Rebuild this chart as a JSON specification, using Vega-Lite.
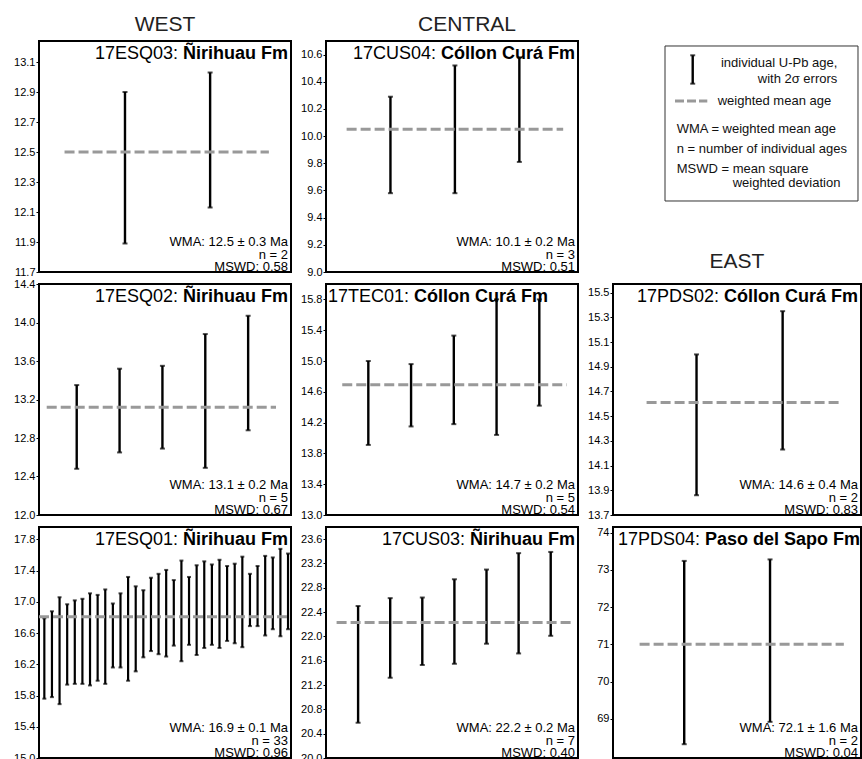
{
"$schema": "https://vega.github.io/schema/vega-lite/v6.json",
"background": "white",
"padding": {"left": 12, "top": 13, "right": 0, "bottom": 0},
"datasets": {
"b1": [{"i":1,"lo":11.89,"hi":12.90},{"i":2,"lo":12.13,"hi":13.03}],
"b2": [{"i":1,"lo":9.58,"hi":10.29},{"i":2,"lo":9.58,"hi":10.52},{"i":3,"lo":9.81,"hi":10.58}],
"b3": [{"i":1,"lo":12.48,"hi":13.35},{"i":2,"lo":12.65,"hi":13.52},{"i":3,"lo":12.69,"hi":13.55},{"i":4,"lo":12.49,"hi":13.88},{"i":5,"lo":12.88,"hi":14.07}],
"b4": [{"i":1,"lo":13.91,"hi":15.0},{"i":2,"lo":14.15,"hi":14.96},{"i":3,"lo":14.18,"hi":15.33},{"i":4,"lo":14.04,"hi":15.8},{"i":5,"lo":14.42,"hi":15.8}],
"b5": [{"i":1,"lo":13.86,"hi":15.0},{"i":2,"lo":14.23,"hi":15.35}],
"b6": [{"i":1,"lo":15.76,"hi":16.79},{"i":2,"lo":15.78,"hi":16.88},{"i":3,"lo":15.69,"hi":17.06},{"i":4,"lo":15.94,"hi":16.97},{"i":5,"lo":15.95,"hi":17.02},{"i":6,"lo":15.95,"hi":17.04},{"i":7,"lo":15.93,"hi":17.11},{"i":8,"lo":15.99,"hi":17.09},{"i":9,"lo":15.95,"hi":17.16},{"i":10,"lo":16.16,"hi":16.98},{"i":11,"lo":16.16,"hi":17.11},{"i":12,"lo":15.99,"hi":17.32},{"i":13,"lo":16.11,"hi":17.20},{"i":14,"lo":16.29,"hi":17.15},{"i":15,"lo":16.37,"hi":17.31},{"i":16,"lo":16.33,"hi":17.36},{"i":17,"lo":16.30,"hi":17.41},{"i":18,"lo":16.44,"hi":17.28},{"i":19,"lo":16.24,"hi":17.53},{"i":20,"lo":16.45,"hi":17.32},{"i":21,"lo":16.32,"hi":17.47},{"i":22,"lo":16.41,"hi":17.52},{"i":23,"lo":16.45,"hi":17.48},{"i":24,"lo":16.41,"hi":17.54},{"i":25,"lo":16.50,"hi":17.46},{"i":26,"lo":16.47,"hi":17.49},{"i":27,"lo":16.42,"hi":17.58},{"i":28,"lo":16.69,"hi":17.36},{"i":29,"lo":16.69,"hi":17.46},{"i":30,"lo":16.57,"hi":17.59},{"i":31,"lo":16.65,"hi":17.57},{"i":32,"lo":16.56,"hi":17.68},{"i":33,"lo":16.65,"hi":17.62}],
"b7": [{"i":1,"lo":20.58,"hi":22.50},{"i":2,"lo":21.32,"hi":22.63},{"i":3,"lo":21.53,"hi":22.64},{"i":4,"lo":21.55,"hi":22.94},{"i":5,"lo":21.88,"hi":23.10},{"i":6,"lo":21.72,"hi":23.37},{"i":7,"lo":22.01,"hi":23.39}],
"b8": [{"i":1,"lo":68.32,"hi":73.24},{"i":2,"lo":68.92,"hi":73.28}],
"s1": [{"sample":"17ESQ03:","fm":"Ñirihuau Fm","wma":12.5,"l1":"WMA: 12.5 ± 0.3 Ma","l2":"n = 2","l3":"MSWD: 0.58"}],
"s2": [{"sample":"17CUS04:","fm":"Cóllon Curá Fm","wma":10.05,"l1":"WMA: 10.1 ± 0.2 Ma","l2":"n = 3","l3":"MSWD: 0.51"}],
"s3": [{"sample":"17ESQ02:","fm":"Ñirihuau Fm","wma":13.12,"l1":"WMA: 13.1 ± 0.2 Ma","l2":"n = 5","l3":"MSWD: 0.67"}],
"s4": [{"sample":"17TEC01:","fm":"Cóllon Curá Fm","wma":14.69,"l1":"WMA: 14.7 ± 0.2 Ma","l2":"n = 5","l3":"MSWD: 0.54"}],
"s5": [{"sample":"17PDS02:","fm":"Cóllon Curá Fm","wma":14.61,"l1":"WMA: 14.6 ± 0.4 Ma","l2":"n = 2","l3":"MSWD: 0.83"}],
"s6": [{"sample":"17ESQ01:","fm":"Ñirihuau Fm","wma":16.81,"l1":"WMA: 16.9 ± 0.1 Ma","l2":"n = 33","l3":"MSWD: 0.96"}],
"s7": [{"sample":"17CUS03:","fm":"Ñirihuau Fm","wma":22.23,"l1":"WMA: 22.2 ± 0.2 Ma","l2":"n = 7","l3":"MSWD: 0.40"}],
"s8": [{"sample":"17PDS04:","fm":"Paso del Sapo Fm","wma":71.0,"l1":"WMA: 72.1 ± 1.6 Ma","l2":"n = 2","l3":"MSWD: 0.04"}]
},
"columns": 3,
"bounds": "flush",
"spacing": {"row": 12, "column": 35},
"concat": [
{
"width": 252, "height": 231,
"title": {"text": "WEST", "offset": -15, "baseline": "bottom"},
"layer": [
{"data": {"name": "b1"}, "mark": {"type": "rule", "color": "black", "strokeWidth": 2.4},
 "encoding": {"x": {"field": "i", "type": "quantitative", "scale": {"domain": [-0.01, 2.95], "nice": false, "zero": false}, "axis": null},
  "y": {"field": "lo", "type": "quantitative", "scale": {"domain": [11.7, 13.24], "nice": false, "zero": false}, "axis": {"values": [11.7, 11.9, 12.1, 12.3, 12.5, 12.7, 12.9, 13.1], "tickCount": 20, "labelOverlap": false, "format": ".1f", "title": null}},
  "y2": {"field": "hi"}}},
{"data": {"name": "b1"}, "mark": {"type": "tick", "orient": "horizontal", "color": "black", "size": 5, "thickness": 2},
 "encoding": {"x": {"field": "i", "type": "quantitative", "axis": null}, "y": {"field": "lo", "type": "quantitative"}}},
{"data": {"name": "b1"}, "mark": {"type": "tick", "orient": "horizontal", "color": "black", "size": 5, "thickness": 2},
 "encoding": {"x": {"field": "i", "type": "quantitative", "axis": null}, "y": {"field": "hi", "type": "quantitative"}}},
{"data": {"name": "s1"}, "mark": {"type": "rule", "color": "#999999", "strokeWidth": 3, "strokeDash": [10, 4]},
 "encoding": {"x": {"datum": 0.29, "type": "quantitative", "axis": null}, "x2": {"datum": 2.69}, "y": {"field": "wma", "type": "quantitative"}}},
{"data": {"name": "s1"}, "mark": {"type": "text", "align": "right", "baseline": "alphabetic", "fontSize": 18, "dx": -113, "dy": 18, "color": "black"},
 "encoding": {"x": {"datum": 2.95, "type": "quantitative", "axis": null}, "y": {"datum": 13.24, "type": "quantitative"}, "text": {"field": "sample"}}},
{"data": {"name": "s1"}, "mark": {"type": "text", "align": "right", "baseline": "alphabetic", "fontSize": 18, "fontWeight": "bold", "dx": -3, "dy": 18, "color": "black"},
 "encoding": {"x": {"datum": 2.95, "type": "quantitative", "axis": null}, "y": {"datum": 13.24, "type": "quantitative"}, "text": {"field": "fm"}}},
{"data": {"name": "s1"}, "mark": {"type": "text", "align": "right", "baseline": "alphabetic", "fontSize": 13, "dx": -3, "dy": -26, "color": "black"},
 "encoding": {"x": {"datum": 2.95, "type": "quantitative", "axis": null}, "y": {"datum": 11.7, "type": "quantitative"}, "text": {"field": "l1"}}},
{"data": {"name": "s1"}, "mark": {"type": "text", "align": "right", "baseline": "alphabetic", "fontSize": 13, "dx": -3, "dy": -13.5, "color": "black"},
 "encoding": {"x": {"datum": 2.95, "type": "quantitative", "axis": null}, "y": {"datum": 11.7, "type": "quantitative"}, "text": {"field": "l2"}}},
{"data": {"name": "s1"}, "mark": {"type": "text", "align": "right", "baseline": "alphabetic", "fontSize": 13, "dx": -3, "dy": -1.5, "color": "black"},
 "encoding": {"x": {"datum": 2.95, "type": "quantitative", "axis": null}, "y": {"datum": 11.7, "type": "quantitative"}, "text": {"field": "l3"}}}
]
},
{
"width": 252, "height": 231,
"title": {"text": "CENTRAL", "offset": -15, "baseline": "bottom", "dx": 15},
"layer": [
{"data": {"name": "b2"}, "mark": {"type": "rule", "color": "black", "strokeWidth": 2.4},
 "encoding": {"x": {"field": "i", "type": "quantitative", "scale": {"domain": [0, 3.91], "nice": false, "zero": false}, "axis": null},
  "y": {"field": "lo", "type": "quantitative", "scale": {"domain": [9.0, 10.7], "nice": false, "zero": false}, "axis": {"values": [9.0, 9.2, 9.4, 9.6, 9.8, 10.0, 10.2, 10.4, 10.6], "tickCount": 20, "labelOverlap": false, "format": ".1f", "title": null}},
  "y2": {"field": "hi"}}},
{"data": {"name": "b2"}, "mark": {"type": "tick", "orient": "horizontal", "color": "black", "size": 5, "thickness": 2},
 "encoding": {"x": {"field": "i", "type": "quantitative", "axis": null}, "y": {"field": "lo", "type": "quantitative"}}},
{"data": {"name": "b2"}, "mark": {"type": "tick", "orient": "horizontal", "color": "black", "size": 5, "thickness": 2},
 "encoding": {"x": {"field": "i", "type": "quantitative", "axis": null}, "y": {"field": "hi", "type": "quantitative"}}},
{"data": {"name": "s2"}, "mark": {"type": "rule", "color": "#999999", "strokeWidth": 3, "strokeDash": [10, 4]},
 "encoding": {"x": {"datum": 0.32, "type": "quantitative", "axis": null}, "x2": {"datum": 3.68}, "y": {"field": "wma", "type": "quantitative"}}},
{"data": {"name": "s2"}, "mark": {"type": "text", "align": "right", "baseline": "alphabetic", "fontSize": 18, "dx": -142, "dy": 18, "color": "black"},
 "encoding": {"x": {"datum": 3.91, "type": "quantitative", "axis": null}, "y": {"datum": 10.7, "type": "quantitative"}, "text": {"field": "sample"}}},
{"data": {"name": "s2"}, "mark": {"type": "text", "align": "right", "baseline": "alphabetic", "fontSize": 18, "fontWeight": "bold", "dx": -3, "dy": 18, "color": "black"},
 "encoding": {"x": {"datum": 3.91, "type": "quantitative", "axis": null}, "y": {"datum": 10.7, "type": "quantitative"}, "text": {"field": "fm"}}},
{"data": {"name": "s2"}, "mark": {"type": "text", "align": "right", "baseline": "alphabetic", "fontSize": 13, "dx": -3, "dy": -26, "color": "black"},
 "encoding": {"x": {"datum": 3.91, "type": "quantitative", "axis": null}, "y": {"datum": 9.0, "type": "quantitative"}, "text": {"field": "l1"}}},
{"data": {"name": "s2"}, "mark": {"type": "text", "align": "right", "baseline": "alphabetic", "fontSize": 13, "dx": -3, "dy": -13.5, "color": "black"},
 "encoding": {"x": {"datum": 3.91, "type": "quantitative", "axis": null}, "y": {"datum": 9.0, "type": "quantitative"}, "text": {"field": "l2"}}},
{"data": {"name": "s2"}, "mark": {"type": "text", "align": "right", "baseline": "alphabetic", "fontSize": 13, "dx": -3, "dy": -1.5, "color": "black"},
 "encoding": {"x": {"datum": 3.91, "type": "quantitative", "axis": null}, "y": {"datum": 9.0, "type": "quantitative"}, "text": {"field": "l3"}}}
]
},
{
"width": 248, "height": 231,
"view": {"stroke": null},
"data": {"values": [{"k": 1}]},
"layer": [
{"mark": {"type": "rect", "filled": false, "color": "#333333", "strokeWidth": 1},
 "encoding": {"x": {"datum": 0.2097, "type": "quantitative", "scale": {"domain": [0, 1], "nice": false, "zero": false}, "axis": null}, "x2": {"datum": 0.9879},
  "y": {"datum": 0.0216, "type": "quantitative", "scale": {"domain": [0, 1], "reverse": true, "nice": false, "zero": false}, "axis": null}, "y2": {"datum": 0.6926}}},
{"mark": {"type": "rule", "color": "black", "strokeWidth": 2.4},
 "encoding": {"x": {"datum": 0.3214, "type": "quantitative", "axis": null}, "y": {"datum": 0.0619, "type": "quantitative", "axis": null}, "y2": {"datum": 0.1848}}},
{"mark": {"type": "tick", "orient": "horizontal", "color": "black", "size": 5, "thickness": 2},
 "encoding": {"x": {"datum": 0.3214, "type": "quantitative", "axis": null}, "y": {"datum": 0.0619, "type": "quantitative", "axis": null}}},
{"mark": {"type": "tick", "orient": "horizontal", "color": "black", "size": 5, "thickness": 2},
 "encoding": {"x": {"datum": 0.3214, "type": "quantitative", "axis": null}, "y": {"datum": 0.1848, "type": "quantitative", "axis": null}}},
{"mark": {"type": "rule", "color": "#999999", "strokeWidth": 3, "strokeDash": [9, 3]},
 "encoding": {"x": {"datum": 0.25, "type": "quantitative", "axis": null}, "x2": {"datum": 0.3802}, "y": {"datum": 0.2597, "type": "quantitative", "axis": null}}},
{"mark": {"type": "text", "text": "individual U-Pb age,", "align": "right", "baseline": "middle", "fontSize": 13, "color": "#111111"},
 "encoding": {"x": {"datum": 0.9044, "type": "quantitative", "axis": null}, "y": {"datum": 0.0952, "type": "quantitative", "axis": null}}},
{"mark": {"type": "text", "text": "with 2σ errors", "align": "right", "baseline": "middle", "fontSize": 13, "color": "#111111"},
 "encoding": {"x": {"datum": 0.9044, "type": "quantitative", "axis": null}, "y": {"datum": 0.1645, "type": "quantitative", "axis": null}}},
{"mark": {"type": "text", "text": "weighted mean age", "align": "left", "baseline": "middle", "fontSize": 13, "color": "#111111"},
 "encoding": {"x": {"datum": 0.4222, "type": "quantitative", "axis": null}, "y": {"datum": 0.2597, "type": "quantitative", "axis": null}}},
{"mark": {"type": "text", "text": "WMA = weighted mean age", "align": "left", "baseline": "middle", "fontSize": 13, "color": "#111111"},
 "encoding": {"x": {"datum": 0.2569, "type": "quantitative", "axis": null}, "y": {"datum": 0.3823, "type": "quantitative", "axis": null}}},
{"mark": {"type": "text", "text": "n = number of individual ages", "align": "left", "baseline": "middle", "fontSize": 13, "color": "#111111"},
 "encoding": {"x": {"datum": 0.2569, "type": "quantitative", "axis": null}, "y": {"datum": 0.4675, "type": "quantitative", "axis": null}}},
{"mark": {"type": "text", "text": "MSWD = mean square", "align": "left", "baseline": "middle", "fontSize": 13, "color": "#111111"},
 "encoding": {"x": {"datum": 0.2569, "type": "quantitative", "axis": null}, "y": {"datum": 0.5554, "type": "quantitative", "axis": null}}},
{"mark": {"type": "text", "text": "weighted deviation", "align": "left", "baseline": "middle", "fontSize": 13, "color": "#111111"},
 "encoding": {"x": {"datum": 0.4827, "type": "quantitative", "axis": null}, "y": {"datum": 0.6147, "type": "quantitative", "axis": null}}}
]
},
{
"width": 252, "height": 231,
"layer": [
{"data": {"name": "b3"}, "mark": {"type": "rule", "color": "black", "strokeWidth": 2.4},
 "encoding": {"x": {"field": "i", "type": "quantitative", "scale": {"domain": [0.12, 6.0], "nice": false, "zero": false}, "axis": null},
  "y": {"field": "lo", "type": "quantitative", "scale": {"domain": [12.0, 14.4], "nice": false, "zero": false}, "axis": {"values": [12.0, 12.4, 12.8, 13.2, 13.6, 14.0, 14.4], "tickCount": 20, "labelOverlap": false, "format": ".1f", "title": null}},
  "y2": {"field": "hi"}}},
{"data": {"name": "b3"}, "mark": {"type": "tick", "orient": "horizontal", "color": "black", "size": 5, "thickness": 2},
 "encoding": {"x": {"field": "i", "type": "quantitative", "axis": null}, "y": {"field": "lo", "type": "quantitative"}}},
{"data": {"name": "b3"}, "mark": {"type": "tick", "orient": "horizontal", "color": "black", "size": 5, "thickness": 2},
 "encoding": {"x": {"field": "i", "type": "quantitative", "axis": null}, "y": {"field": "hi", "type": "quantitative"}}},
{"data": {"name": "s3"}, "mark": {"type": "rule", "color": "#999999", "strokeWidth": 3, "strokeDash": [10, 4]},
 "encoding": {"x": {"datum": 0.30, "type": "quantitative", "axis": null}, "x2": {"datum": 5.65}, "y": {"field": "wma", "type": "quantitative"}}},
{"data": {"name": "s3"}, "mark": {"type": "text", "align": "right", "baseline": "alphabetic", "fontSize": 18, "dx": -113, "dy": 18, "color": "black"},
 "encoding": {"x": {"datum": 6.0, "type": "quantitative", "axis": null}, "y": {"datum": 14.4, "type": "quantitative"}, "text": {"field": "sample"}}},
{"data": {"name": "s3"}, "mark": {"type": "text", "align": "right", "baseline": "alphabetic", "fontSize": 18, "fontWeight": "bold", "dx": -3, "dy": 18, "color": "black"},
 "encoding": {"x": {"datum": 6.0, "type": "quantitative", "axis": null}, "y": {"datum": 14.4, "type": "quantitative"}, "text": {"field": "fm"}}},
{"data": {"name": "s3"}, "mark": {"type": "text", "align": "right", "baseline": "alphabetic", "fontSize": 13, "dx": -3, "dy": -26, "color": "black"},
 "encoding": {"x": {"datum": 6.0, "type": "quantitative", "axis": null}, "y": {"datum": 12.0, "type": "quantitative"}, "text": {"field": "l1"}}},
{"data": {"name": "s3"}, "mark": {"type": "text", "align": "right", "baseline": "alphabetic", "fontSize": 13, "dx": -3, "dy": -13.5, "color": "black"},
 "encoding": {"x": {"datum": 6.0, "type": "quantitative", "axis": null}, "y": {"datum": 12.0, "type": "quantitative"}, "text": {"field": "l2"}}},
{"data": {"name": "s3"}, "mark": {"type": "text", "align": "right", "baseline": "alphabetic", "fontSize": 13, "dx": -3, "dy": -1.5, "color": "black"},
 "encoding": {"x": {"datum": 6.0, "type": "quantitative", "axis": null}, "y": {"datum": 12.0, "type": "quantitative"}, "text": {"field": "l3"}}}
]
},
{
"width": 252, "height": 231,
"layer": [
{"data": {"name": "b4"}, "mark": {"type": "rule", "color": "black", "strokeWidth": 2.4},
 "encoding": {"x": {"field": "i", "type": "quantitative", "scale": {"domain": [0.01, 5.905], "nice": false, "zero": false}, "axis": null},
  "y": {"field": "lo", "type": "quantitative", "scale": {"domain": [13.0, 16.0], "nice": false, "zero": false}, "axis": {"values": [13.0, 13.4, 13.8, 14.2, 14.6, 15.0, 15.4, 15.8], "tickCount": 20, "labelOverlap": false, "format": ".1f", "title": null}},
  "y2": {"field": "hi"}}},
{"data": {"name": "b4"}, "mark": {"type": "tick", "orient": "horizontal", "color": "black", "size": 5, "thickness": 2},
 "encoding": {"x": {"field": "i", "type": "quantitative", "axis": null}, "y": {"field": "lo", "type": "quantitative"}}},
{"data": {"name": "b4"}, "mark": {"type": "tick", "orient": "horizontal", "color": "black", "size": 5, "thickness": 2},
 "encoding": {"x": {"field": "i", "type": "quantitative", "axis": null}, "y": {"field": "hi", "type": "quantitative"}}},
{"data": {"name": "s4"}, "mark": {"type": "rule", "color": "#999999", "strokeWidth": 3, "strokeDash": [10, 4]},
 "encoding": {"x": {"datum": 0.39, "type": "quantitative", "axis": null}, "x2": {"datum": 5.64}, "y": {"field": "wma", "type": "quantitative"}}},
{"data": {"name": "s4"}, "mark": {"type": "text", "align": "left", "baseline": "alphabetic", "fontSize": 18, "dx": 2, "dy": 18, "color": "black"},
 "encoding": {"x": {"datum": 0.01, "type": "quantitative", "axis": null}, "y": {"datum": 16.0, "type": "quantitative"}, "text": {"field": "sample"}}},
{"data": {"name": "s4"}, "mark": {"type": "text", "align": "left", "baseline": "alphabetic", "fontSize": 18, "fontWeight": "bold", "dx": 88, "dy": 18, "color": "black"},
 "encoding": {"x": {"datum": 0.01, "type": "quantitative", "axis": null}, "y": {"datum": 16.0, "type": "quantitative"}, "text": {"field": "fm"}}},
{"data": {"name": "s4"}, "mark": {"type": "text", "align": "right", "baseline": "alphabetic", "fontSize": 13, "dx": -3, "dy": -26, "color": "black"},
 "encoding": {"x": {"datum": 5.905, "type": "quantitative", "axis": null}, "y": {"datum": 13.0, "type": "quantitative"}, "text": {"field": "l1"}}},
{"data": {"name": "s4"}, "mark": {"type": "text", "align": "right", "baseline": "alphabetic", "fontSize": 13, "dx": -3, "dy": -13.5, "color": "black"},
 "encoding": {"x": {"datum": 5.905, "type": "quantitative", "axis": null}, "y": {"datum": 13.0, "type": "quantitative"}, "text": {"field": "l2"}}},
{"data": {"name": "s4"}, "mark": {"type": "text", "align": "right", "baseline": "alphabetic", "fontSize": 13, "dx": -3, "dy": -1.5, "color": "black"},
 "encoding": {"x": {"datum": 5.905, "type": "quantitative", "axis": null}, "y": {"datum": 13.0, "type": "quantitative"}, "text": {"field": "l3"}}}
]
},
{
"width": 248, "height": 231,
"title": {"text": "EAST", "offset": -9, "baseline": "bottom"},
"layer": [
{"data": {"name": "b5"}, "mark": {"type": "rule", "color": "black", "strokeWidth": 2.4},
 "encoding": {"x": {"field": "i", "type": "quantitative", "scale": {"domain": [0.03, 2.91], "nice": false, "zero": false}, "axis": null},
  "y": {"field": "lo", "type": "quantitative", "scale": {"domain": [13.7, 15.57], "nice": false, "zero": false}, "axis": {"values": [13.7, 13.9, 14.1, 14.3, 14.5, 14.7, 14.9, 15.1, 15.3, 15.5], "tickCount": 20, "labelOverlap": false, "format": ".1f", "title": null}},
  "y2": {"field": "hi"}}},
{"data": {"name": "b5"}, "mark": {"type": "tick", "orient": "horizontal", "color": "black", "size": 5, "thickness": 2},
 "encoding": {"x": {"field": "i", "type": "quantitative", "axis": null}, "y": {"field": "lo", "type": "quantitative"}}},
{"data": {"name": "b5"}, "mark": {"type": "tick", "orient": "horizontal", "color": "black", "size": 5, "thickness": 2},
 "encoding": {"x": {"field": "i", "type": "quantitative", "axis": null}, "y": {"field": "hi", "type": "quantitative"}}},
{"data": {"name": "s5"}, "mark": {"type": "rule", "color": "#999999", "strokeWidth": 3, "strokeDash": [10, 4]},
 "encoding": {"x": {"datum": 0.42, "type": "quantitative", "axis": null}, "x2": {"datum": 2.67}, "y": {"field": "wma", "type": "quantitative"}}},
{"data": {"name": "s5"}, "mark": {"type": "text", "align": "right", "baseline": "alphabetic", "fontSize": 18, "dx": -142, "dy": 18, "color": "black"},
 "encoding": {"x": {"datum": 2.91, "type": "quantitative", "axis": null}, "y": {"datum": 15.57, "type": "quantitative"}, "text": {"field": "sample"}}},
{"data": {"name": "s5"}, "mark": {"type": "text", "align": "right", "baseline": "alphabetic", "fontSize": 18, "fontWeight": "bold", "dx": -3, "dy": 18, "color": "black"},
 "encoding": {"x": {"datum": 2.91, "type": "quantitative", "axis": null}, "y": {"datum": 15.57, "type": "quantitative"}, "text": {"field": "fm"}}},
{"data": {"name": "s5"}, "mark": {"type": "text", "align": "right", "baseline": "alphabetic", "fontSize": 13, "dx": -3, "dy": -26, "color": "black"},
 "encoding": {"x": {"datum": 2.91, "type": "quantitative", "axis": null}, "y": {"datum": 13.7, "type": "quantitative"}, "text": {"field": "l1"}}},
{"data": {"name": "s5"}, "mark": {"type": "text", "align": "right", "baseline": "alphabetic", "fontSize": 13, "dx": -3, "dy": -13.5, "color": "black"},
 "encoding": {"x": {"datum": 2.91, "type": "quantitative", "axis": null}, "y": {"datum": 13.7, "type": "quantitative"}, "text": {"field": "l2"}}},
{"data": {"name": "s5"}, "mark": {"type": "text", "align": "right", "baseline": "alphabetic", "fontSize": 13, "dx": -3, "dy": -1.5, "color": "black"},
 "encoding": {"x": {"datum": 2.91, "type": "quantitative", "axis": null}, "y": {"datum": 13.7, "type": "quantitative"}, "text": {"field": "l3"}}}
]
},
{
"width": 252, "height": 231,
"layer": [
{"data": {"name": "b6"}, "mark": {"type": "rule", "color": "black", "strokeWidth": 2.2},
 "encoding": {"x": {"field": "i", "type": "quantitative", "scale": {"domain": [0.30, 33.39], "nice": false, "zero": false}, "axis": null},
  "y": {"field": "lo", "type": "quantitative", "scale": {"domain": [15.0, 17.96], "nice": false, "zero": false}, "axis": {"values": [15.0, 15.4, 15.8, 16.2, 16.6, 17.0, 17.4, 17.8], "tickCount": 20, "labelOverlap": false, "format": ".1f", "title": null}},
  "y2": {"field": "hi"}}},
{"data": {"name": "b6"}, "mark": {"type": "tick", "orient": "horizontal", "color": "black", "size": 4, "thickness": 2},
 "encoding": {"x": {"field": "i", "type": "quantitative", "axis": null}, "y": {"field": "lo", "type": "quantitative"}}},
{"data": {"name": "b6"}, "mark": {"type": "tick", "orient": "horizontal", "color": "black", "size": 4, "thickness": 2},
 "encoding": {"x": {"field": "i", "type": "quantitative", "axis": null}, "y": {"field": "hi", "type": "quantitative"}}},
{"data": {"name": "s6"}, "mark": {"type": "rule", "color": "#999999", "strokeWidth": 3, "strokeDash": [10, 4]},
 "encoding": {"x": {"datum": 0.30, "type": "quantitative", "axis": null}, "x2": {"datum": 33.39}, "y": {"field": "wma", "type": "quantitative"}}},
{"data": {"name": "s6"}, "mark": {"type": "text", "align": "right", "baseline": "alphabetic", "fontSize": 18, "dx": -113, "dy": 18, "color": "black"},
 "encoding": {"x": {"datum": 33.39, "type": "quantitative", "axis": null}, "y": {"datum": 17.96, "type": "quantitative"}, "text": {"field": "sample"}}},
{"data": {"name": "s6"}, "mark": {"type": "text", "align": "right", "baseline": "alphabetic", "fontSize": 18, "fontWeight": "bold", "dx": -3, "dy": 18, "color": "black"},
 "encoding": {"x": {"datum": 33.39, "type": "quantitative", "axis": null}, "y": {"datum": 17.96, "type": "quantitative"}, "text": {"field": "fm"}}},
{"data": {"name": "s6"}, "mark": {"type": "text", "align": "right", "baseline": "alphabetic", "fontSize": 13, "dx": -3, "dy": -26, "color": "black"},
 "encoding": {"x": {"datum": 33.39, "type": "quantitative", "axis": null}, "y": {"datum": 15.0, "type": "quantitative"}, "text": {"field": "l1"}}},
{"data": {"name": "s6"}, "mark": {"type": "text", "align": "right", "baseline": "alphabetic", "fontSize": 13, "dx": -3, "dy": -13.5, "color": "black"},
 "encoding": {"x": {"datum": 33.39, "type": "quantitative", "axis": null}, "y": {"datum": 15.0, "type": "quantitative"}, "text": {"field": "l2"}}},
{"data": {"name": "s6"}, "mark": {"type": "text", "align": "right", "baseline": "alphabetic", "fontSize": 13, "dx": -3, "dy": -1.5, "color": "black"},
 "encoding": {"x": {"datum": 33.39, "type": "quantitative", "axis": null}, "y": {"datum": 15.0, "type": "quantitative"}, "text": {"field": "l3"}}}
]
},
{
"width": 252, "height": 231,
"layer": [
{"data": {"name": "b7"}, "mark": {"type": "rule", "color": "black", "strokeWidth": 2.4},
 "encoding": {"x": {"field": "i", "type": "quantitative", "scale": {"domain": [0, 7.85], "nice": false, "zero": false}, "axis": null},
  "y": {"field": "lo", "type": "quantitative", "scale": {"domain": [20.0, 23.8], "nice": false, "zero": false}, "axis": {"values": [20.0, 20.4, 20.8, 21.2, 21.6, 22.0, 22.4, 22.8, 23.2, 23.6], "tickCount": 20, "labelOverlap": false, "format": ".1f", "title": null}},
  "y2": {"field": "hi"}}},
{"data": {"name": "b7"}, "mark": {"type": "tick", "orient": "horizontal", "color": "black", "size": 5, "thickness": 2},
 "encoding": {"x": {"field": "i", "type": "quantitative", "axis": null}, "y": {"field": "lo", "type": "quantitative"}}},
{"data": {"name": "b7"}, "mark": {"type": "tick", "orient": "horizontal", "color": "black", "size": 5, "thickness": 2},
 "encoding": {"x": {"field": "i", "type": "quantitative", "axis": null}, "y": {"field": "hi", "type": "quantitative"}}},
{"data": {"name": "s7"}, "mark": {"type": "rule", "color": "#999999", "strokeWidth": 3, "strokeDash": [10, 4]},
 "encoding": {"x": {"datum": 0.33, "type": "quantitative", "axis": null}, "x2": {"datum": 7.70}, "y": {"field": "wma", "type": "quantitative"}}},
{"data": {"name": "s7"}, "mark": {"type": "text", "align": "right", "baseline": "alphabetic", "fontSize": 18, "dx": -113, "dy": 18, "color": "black"},
 "encoding": {"x": {"datum": 7.85, "type": "quantitative", "axis": null}, "y": {"datum": 23.8, "type": "quantitative"}, "text": {"field": "sample"}}},
{"data": {"name": "s7"}, "mark": {"type": "text", "align": "right", "baseline": "alphabetic", "fontSize": 18, "fontWeight": "bold", "dx": -3, "dy": 18, "color": "black"},
 "encoding": {"x": {"datum": 7.85, "type": "quantitative", "axis": null}, "y": {"datum": 23.8, "type": "quantitative"}, "text": {"field": "fm"}}},
{"data": {"name": "s7"}, "mark": {"type": "text", "align": "right", "baseline": "alphabetic", "fontSize": 13, "dx": -3, "dy": -26, "color": "black"},
 "encoding": {"x": {"datum": 7.85, "type": "quantitative", "axis": null}, "y": {"datum": 20.0, "type": "quantitative"}, "text": {"field": "l1"}}},
{"data": {"name": "s7"}, "mark": {"type": "text", "align": "right", "baseline": "alphabetic", "fontSize": 13, "dx": -3, "dy": -13.5, "color": "black"},
 "encoding": {"x": {"datum": 7.85, "type": "quantitative", "axis": null}, "y": {"datum": 20.0, "type": "quantitative"}, "text": {"field": "l2"}}},
{"data": {"name": "s7"}, "mark": {"type": "text", "align": "right", "baseline": "alphabetic", "fontSize": 13, "dx": -3, "dy": -1.5, "color": "black"},
 "encoding": {"x": {"datum": 7.85, "type": "quantitative", "axis": null}, "y": {"datum": 20.0, "type": "quantitative"}, "text": {"field": "l3"}}}
]
},
{
"width": 248, "height": 231,
"layer": [
{"data": {"name": "b8"}, "mark": {"type": "rule", "color": "black", "strokeWidth": 2.4},
 "encoding": {"x": {"field": "i", "type": "quantitative", "scale": {"domain": [0.17, 3.06], "nice": false, "zero": false}, "axis": null},
  "y": {"field": "lo", "type": "quantitative", "scale": {"domain": [67.95, 74.15], "nice": false, "zero": false}, "axis": {"values": [69, 70, 71, 72, 73, 74], "tickCount": 20, "labelOverlap": false, "format": "d", "title": null}},
  "y2": {"field": "hi"}}},
{"data": {"name": "b8"}, "mark": {"type": "tick", "orient": "horizontal", "color": "black", "size": 5, "thickness": 2},
 "encoding": {"x": {"field": "i", "type": "quantitative", "axis": null}, "y": {"field": "lo", "type": "quantitative"}}},
{"data": {"name": "b8"}, "mark": {"type": "tick", "orient": "horizontal", "color": "black", "size": 5, "thickness": 2},
 "encoding": {"x": {"field": "i", "type": "quantitative", "axis": null}, "y": {"field": "hi", "type": "quantitative"}}},
{"data": {"name": "s8"}, "mark": {"type": "rule", "color": "#999999", "strokeWidth": 3, "strokeDash": [10, 4]},
 "encoding": {"x": {"datum": 0.48, "type": "quantitative", "axis": null}, "x2": {"datum": 2.86}, "y": {"field": "wma", "type": "quantitative"}}},
{"data": {"name": "s8"}, "mark": {"type": "text", "align": "right", "baseline": "alphabetic", "fontSize": 18, "dx": -161, "dy": 18, "color": "black"},
 "encoding": {"x": {"datum": 3.06, "type": "quantitative", "axis": null}, "y": {"datum": 74.15, "type": "quantitative"}, "text": {"field": "sample"}}},
{"data": {"name": "s8"}, "mark": {"type": "text", "align": "right", "baseline": "alphabetic", "fontSize": 18, "fontWeight": "bold", "dx": -1, "dy": 18, "color": "black"},
 "encoding": {"x": {"datum": 3.06, "type": "quantitative", "axis": null}, "y": {"datum": 74.15, "type": "quantitative"}, "text": {"field": "fm"}}},
{"data": {"name": "s8"}, "mark": {"type": "text", "align": "right", "baseline": "alphabetic", "fontSize": 13, "dx": -3, "dy": -26, "color": "black"},
 "encoding": {"x": {"datum": 3.06, "type": "quantitative", "axis": null}, "y": {"datum": 67.95, "type": "quantitative"}, "text": {"field": "l1"}}},
{"data": {"name": "s8"}, "mark": {"type": "text", "align": "right", "baseline": "alphabetic", "fontSize": 13, "dx": -3, "dy": -13.5, "color": "black"},
 "encoding": {"x": {"datum": 3.06, "type": "quantitative", "axis": null}, "y": {"datum": 67.95, "type": "quantitative"}, "text": {"field": "l2"}}},
{"data": {"name": "s8"}, "mark": {"type": "text", "align": "right", "baseline": "alphabetic", "fontSize": 13, "dx": -3, "dy": -1.5, "color": "black"},
 "encoding": {"x": {"datum": 3.06, "type": "quantitative", "axis": null}, "y": {"datum": 67.95, "type": "quantitative"}, "text": {"field": "l3"}}}
]
}
],
"config": {
"font": "Liberation Sans",
"view": {"stroke": "black", "strokeWidth": 2},
"axis": {"grid": false, "domain": false, "labelFontSize": 11, "labelColor": "black", "tickColor": "black", "tickSize": 3, "tickWidth": 1, "labelPadding": 1, "labelOverlap": false},
"title": {"fontSize": 21, "fontWeight": "normal", "color": "#222222", "anchor": "middle", "frame": "group"}
}
}
